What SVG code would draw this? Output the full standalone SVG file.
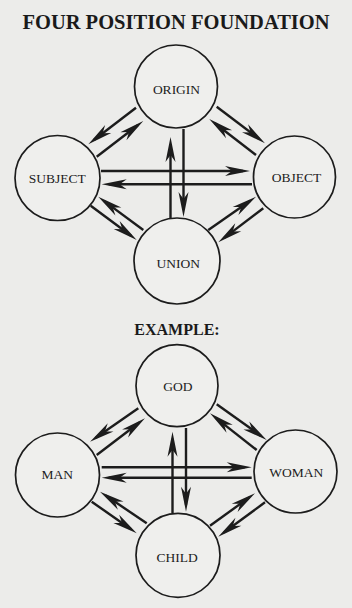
<svg xmlns="http://www.w3.org/2000/svg" width="352" height="608" viewBox="0 0 352 608">
<style>
.bg{fill:#ececea}
.node circle{fill:#efefed;stroke:#1c1c1c;stroke-width:1.7}
.node text{font-family:"Liberation Serif","Times New Roman",serif;font-size:13.5px;fill:#1c1c1c;text-anchor:middle}
.title{font-family:"Liberation Serif","Times New Roman",serif;font-weight:bold;fill:#1a1a1a;text-anchor:middle}
.conn line{stroke:#1c1c1c;stroke-width:2.4;marker-end:url(#ah)}
</style>
<defs>
<marker id="ah" viewBox="-19 -7 27 14" refX="0" refY="0" markerWidth="27" markerHeight="14" markerUnits="userSpaceOnUse" orient="auto">
<path d="M7,0 L-18,-5 L-11,0 L-18,5 Z" fill="#1c1c1c"/>
</marker>
</defs>
<rect class="bg" x="0" y="0" width="352" height="608"/>
<text class="title" x="176" y="29.3" font-size="20.5">FOUR POSITION FOUNDATION</text>
<text class="title" x="177" y="335" font-size="16">EXAMPLE:</text>

<g id="origin" class="node"><circle cx="176" cy="86.5" r="41.5"/><text x="176.5" y="94">ORIGIN</text></g>
<g id="subject" class="node"><circle cx="57.5" cy="178" r="42.5"/><text x="57.2" y="183.3">SUBJECT</text></g>
<g id="object" class="node"><circle cx="294.5" cy="177" r="41"/><text x="296.5" y="182.3">OBJECT</text></g>
<g id="union" class="node"><circle cx="177" cy="261" r="43"/><text x="178.3" y="268.3">UNION</text></g>

<g id="god" class="node"><circle cx="177" cy="385.7" r="41"/><text x="177.8" y="390.7">GOD</text></g>
<g id="man" class="node"><circle cx="57.5" cy="475" r="42"/><text x="57.2" y="479.3">MAN</text></g>
<g id="woman" class="node"><circle cx="295.5" cy="471.5" r="41.5"/><text x="296.3" y="476.7">WOMAN</text></g>
<g id="child" class="node"><circle cx="178" cy="555.3" r="42"/><text x="177.2" y="562.3">CHILD</text></g>

<g id="connectors" class="conn">
<line x1="136" y1="107.7" x2="93.9" y2="140"/>
<line x1="96.7" y1="156.7" x2="137.7" y2="125.3"/>
<line x1="216.7" y1="106.7" x2="259.4" y2="139.1"/>
<line x1="256" y1="155" x2="214.8" y2="123.3"/>
<line x1="143.3" y1="230" x2="103.9" y2="200.9"/>
<line x1="90.7" y1="205.7" x2="131.1" y2="235.8"/>
<line x1="208.3" y1="230" x2="250.3" y2="200.7"/>
<line x1="263.3" y1="208.3" x2="223.9" y2="238.1"/>
<line x1="101" y1="171" x2="243" y2="171"/>
<line x1="252" y1="184.3" x2="108.7" y2="184.3"/>
<line x1="170.5" y1="218" x2="170.5" y2="144"/>
<line x1="183.5" y1="129" x2="183.5" y2="210"/>

<line x1="138.3" y1="408.3" x2="95.8" y2="437.7"/>
<line x1="96.7" y1="455" x2="139.4" y2="422.5"/>
<line x1="216.7" y1="404.3" x2="261" y2="435.9"/>
<line x1="256.7" y1="450" x2="215.5" y2="417.6"/>
<line x1="146.7" y1="523.3" x2="105.8" y2="495.6"/>
<line x1="91.7" y1="501.7" x2="131" y2="529.3"/>
<line x1="210" y1="525.7" x2="249.3" y2="497.4"/>
<line x1="265" y1="502.3" x2="223.9" y2="532.5"/>
<line x1="101.7" y1="467.3" x2="244.7" y2="467.3"/>
<line x1="251.7" y1="477.7" x2="108.7" y2="477.7"/>
<line x1="172.5" y1="513" x2="172.5" y2="438.7"/>
<line x1="186" y1="428" x2="186" y2="504.7"/>
</g>
</svg>
